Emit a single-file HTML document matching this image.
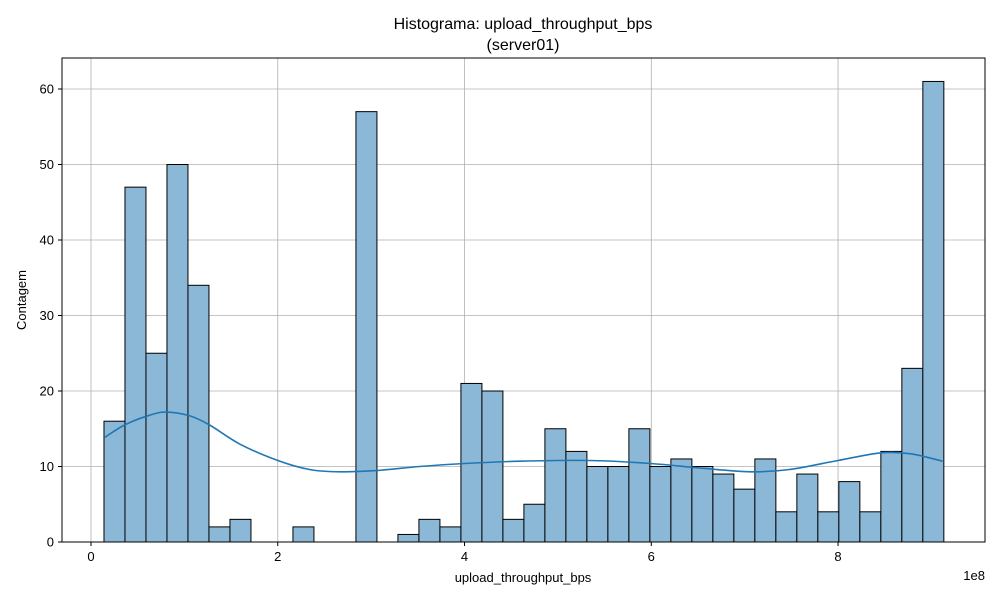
<!DOCTYPE html>
<html><head><meta charset="utf-8">
<style>
body{margin:0;background:#fff;}
svg text{font-family:"Liberation Sans","DejaVu Sans",sans-serif;fill:#000;}
</style></head>
<body>
<svg id="chart" width="1000" height="600" viewBox="0 0 1000 600" xmlns="http://www.w3.org/2000/svg">
<rect width="1000" height="600" fill="#fff"/>
<text x="523" y="29" font-size="16" text-anchor="middle">Histograma: upload_throughput_bps</text>
<text x="523" y="50" font-size="16" text-anchor="middle">(server01)</text>
<g id="grid"></g>
<g id="bars"></g>
<path id="kde" fill="none" stroke="#1f77b4" stroke-width="1.6"/>
<rect x="62" y="58" width="923" height="484" fill="none" stroke="#000" stroke-width="1"/>
<g id="ticks"></g>
<text x="523" y="582" font-size="13" text-anchor="middle">upload_throughput_bps</text>
<text x="985" y="580" font-size="13" text-anchor="end">1e8</text>
<text x="0" y="0" font-size="13" text-anchor="middle" transform="translate(26,300) rotate(-90)">Contagem</text>
</svg>
<script>
const counts=[16,47,25,50,34,2,3,0,0,2,0,0,57,0,1,3,2,21,20,3,5,15,12,10,10,15,10,11,10,9,7,11,4,9,4,8,4,12,23,61];
const binStart=0.139, binEnd=9.133;
const kdeX=[0.14,0.36,0.63,0.81,1.06,1.27,1.59,2.0,2.34,2.67,3.09,3.52,4.0,4.59,5.34,5.99,6.52,7.06,7.48,8.0,8.45,8.77,9.12];
const kdeY=[13.8,15.5,16.8,17.2,16.7,15.5,13.0,10.8,9.6,9.3,9.5,10.0,10.4,10.7,10.8,10.4,9.8,9.3,9.6,10.8,11.8,11.7,10.7];
const xTicks=[0,2,4,6,8];
const yTicks=[0,10,20,30,40,50,60];
const NS="http://www.w3.org/2000/svg";
const X=v=>91+v*93.38;
const Y=v=>542-v*7.55;
function mk(tag,attrs,parent){const e=document.createElementNS(NS,tag);for(const k in attrs)e.setAttribute(k,attrs[k]);parent.appendChild(e);return e;}
const grid=document.getElementById('grid'),bars=document.getElementById('bars'),ticks=document.getElementById('ticks');
xTicks.forEach(t=>{
 const l=mk('line',{x1:X(t),x2:X(t),y1:58,y2:542,stroke:'#b0b0b0','stroke-width':0.8},grid);
 
 
 const m=mk('line',{x1:X(t),x2:X(t),y1:542,y2:546,stroke:'#000'},ticks);
 
 
 const s=mk('text',{x:X(t),y:561,'font-size':13,'text-anchor':'middle'},ticks);s.textContent=t;
 
 
});
yTicks.forEach(t=>{
 const l=mk('line',{x1:62,x2:985,y1:Y(t),y2:Y(t),stroke:'#b0b0b0','stroke-width':0.8},grid);
 
 
 const m=mk('line',{x1:58,x2:62,y1:Y(t),y2:Y(t),stroke:'#000'},ticks);
 
 
 const s=mk('text',{x:54,y:Y(t)+4.5,'font-size':13,'text-anchor':'end'},ticks);s.textContent=t;
 
 
});
const bw=(binEnd-binStart)/counts.length;
counts.forEach((c,i)=>{
 if(c<=0)return;
 const x0=X(binStart+i*bw),x1=X(binStart+(i+1)*bw);
 const r=mk('rect',{x:x0,y:Y(c),width:x1-x0,height:Y(0)-Y(c),fill:'#8cb8d8',stroke:'#000','stroke-width':1},bars);
 
 
});
const P=kdeX.map((x,i)=>[X(x),Y(kdeY[i])]);
let d='M'+P[0][0].toFixed(1)+','+P[0][1].toFixed(1);
for(let i=0;i<P.length-1;i++){
 const p0=P[Math.max(0,i-1)],p1=P[i],p2=P[i+1],p3=P[Math.min(P.length-1,i+2)];
 const c1=[p1[0]+(p2[0]-p0[0])/6,p1[1]+(p2[1]-p0[1])/6];
 const c2=[p2[0]-(p3[0]-p1[0])/6,p2[1]-(p3[1]-p1[1])/6];
 d+=' C'+c1.map(v=>v.toFixed(1)).join(',')+' '+c2.map(v=>v.toFixed(1)).join(',')+' '+p2.map(v=>v.toFixed(1)).join(',');
}
document.getElementById('kde').setAttribute('d',d);
</script>
</body></html>
